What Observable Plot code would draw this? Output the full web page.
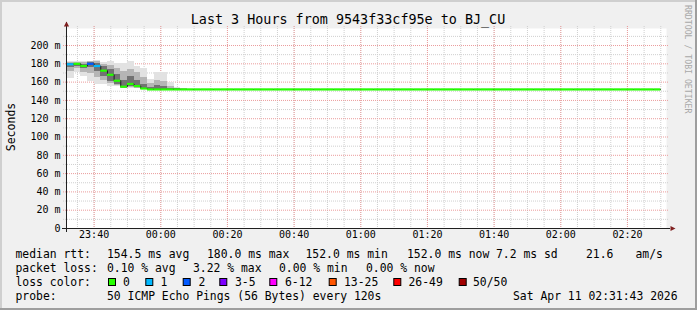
<!DOCTYPE html>
<html><head><meta charset="utf-8">
<script src="https://cdn.jsdelivr.net/npm/d3@7"></script>
<script src="https://cdn.jsdelivr.net/npm/@observablehq/plot@0.6"></script>
<style>
html,body{margin:0;padding:0;background:#f0f0f0;}
svg{display:block;}
</style></head><body><div id="chart"></div>
<script>
// ---- texts ----
const title = "Last 3 Hours from 9543f33cf95e to BJ_CU";
const yLabel = "Seconds";
const watermark = "RRDTOOL / TOBI OETIKER";
// ---- time range ----
const rangeStart = "2026-04-10T23:31:43Z";
const rangeEnd = "2026-04-11T02:31:43Z";
const firstStep = "2026-04-10T23:32:00Z";
const stepSeconds = 120;
const yMax = 218.6;
// ---- median rtt (ms) per 2-minute step ----
const medianMs = [
  179.5, 180, 177.6, 180, 177.6, 172.5, 168, 161.5, 155, 158, 155.7, 153, 152, 152, 152, 152, 152, 152,
  152, 152, 152, 152, 152, 152, 152, 152, 152, 152, 152, 152, 152, 152, 152, 152, 152, 152,
  152, 152, 152, 152, 152, 152, 152, 152, 152, 152, 152, 152, 152, 152, 152, 152, 152, 152,
  152, 152, 152, 152, 152, 152, 152, 152, 152, 152, 152, 152, 152, 152, 152, 152, 152, 152,
  152, 152, 152, 152, 152, 152, 152, 152, 152, 152, 152, 152, 152, 152, 152, 152, 152
];
// ---- lost pings per step (of 50) ----
const lossPings = [
  1, 0, 0, 2, 1, 0, 0, 0, 0, 0, 0, 0, 0, 0, 0, 0, 0, 0,
  0, 0, 0, 0, 0, 0, 0, 0, 0, 0, 0, 0, 0, 0, 0, 0, 0, 0,
  0, 0, 0, 0, 0, 0, 0, 0, 0, 0, 0, 0, 0, 0, 0, 0, 0, 0,
  0, 0, 0, 0, 0, 0, 0, 0, 0, 0, 0, 0, 0, 0, 0, 0, 0, 0,
  0, 0, 0, 0, 0, 0, 0, 0, 0, 0, 0, 0, 0, 0, 0, 0, 0
];
// ---- smoke (ping spread) for the first steps, ms ----
const smokeMin = [164, 170, 166, 161, 157, 157, 155, 155, 153, 153, 153, 152, 151.5, 151.5, 151.5, 151.5, 151.5, 151.5];
const smokeMax = [182, 182, 183, 183, 184, 181, 182, 180, 180, 182, 177, 175, 163, 170, 170, 160, 154, 153];
const smokeLoMid = [172, 175, 171, 169, 165, 162, 159, 156, 153.5, 154, 153.5, 152, 151.8, 151.8, 151.8, 151.8, 151.8, 151.8];
const smokeHiMid = [181, 181, 181.5, 182, 182, 179.5, 178, 175, 172, 174, 170, 165, 158, 162, 161, 155, 153, 152.5];
const smokeLoCore = [176, 177.5, 175, 176, 172, 166, 161, 157.5, 154, 155, 154, 152.5, 152, 152, 152, 152, 152, 152];
const smokeHiCore = [180, 180.5, 179.5, 181, 180, 177, 174, 168, 162, 166, 162, 157, 154, 156, 155, 153, 152.5, 152.3];
// ---- loss colour legend ----
const lossLabels = ["0", "1", "2", "3-5", "6-12", "13-25", "26-49", "50/50"];
const lossLow = [0, 1, 2, 3, 6, 13, 26, 50];
const lossColors = ["#26ff00", "#00b8ff", "#0059ff", "#7e00ff", "#ff00ff", "#ff5500", "#ff0000", "#a10000"];
// ---- ticks ----
const yTicks = [0, 20, 40, 60, 80, 100, 120, 140, 160, 180, 200];
const yMinorTicks = [10, 30, 50, 70, 90, 110, 130, 150, 170, 190, 210];
// ---- legend texts ----
const rowLabels = ["median rtt:", "packet loss:", "loss color:", "probe:"];
const rttStats = ["154.5 ms avg", "180.0 ms max", "152.0 ms min", "152.0 ms now", "7.2 ms sd", "21.6", "am/s"];
const lossStats = ["0.10 % avg", "3.22 % max", "0.00 % min", "0.00 % now"];
const probeText = "50 ICMP Echo Pings (56 Bytes) every 120s";
const stampText = "Sat Apr 11 02:31:43 2026";

// ---- derived ----
const t0 = Date.parse(firstStep);
const stepTime = i => new Date(t0 + i * stepSeconds * 1000);
const xStart = new Date(rangeStart), xEnd = new Date(rangeEnd);
const steps = medianMs.map((v, i) => i);
const smokeSteps = smokeMin.map((v, i) => i);
const medLine = steps.map(i => ({t: stepTime(i), v: medianMs[i]}));
medLine.push({t: stepTime(steps.length), v: medianMs[steps.length - 1]});
const lossColor = n => { let c = lossColors[0]; lossLow.forEach((lo, k) => { if (n >= lo) c = lossColors[k]; }); return c; };
const minorTimes = d3.utcMinute.every(5).range(xStart, xEnd);
const majorTimes = d3.utcMinute.every(20).range(xStart, xEnd);
const fmt = d3.utcFormat("%H:%M");
const arrowUp = {draw(ctx) { ctx.moveTo(0, -3); ctx.lineTo(2.6, 2); ctx.lineTo(-2.6, 2); ctx.closePath(); }};
const arrowRight = {draw(ctx) { ctx.moveTo(3, 0); ctx.lineTo(-2, -2.6); ctx.lineTo(-2, 2.6); ctx.closePath(); }};
const gridGray = "#cfcfcf", gridRed = "#eb9c9c";

const chart = Plot.plot({
  width: 697, height: 310,
  marginLeft: 66, marginRight: 31, marginTop: 28, marginBottom: 82,
  style: {fontFamily: "DejaVu Sans Mono", fontSize: "10px", background: "#f0f0f0", color: "#000", overflow: "visible"},
  x: {type: "utc", domain: [xStart, xEnd], axis: null},
  y: {domain: [0, yMax], axis: null},
  color: {type: "identity"},
  marks: [
    Plot.frame({fill: "white", stroke: "none"}),
    Plot.ruleX(minorTimes, {x: d => d, stroke: gridGray, strokeDasharray: "1,1", insetTop: -2}),
    Plot.ruleY(yMinorTicks, {y: d => d, stroke: gridGray, strokeDasharray: "1,1", insetLeft: -3, insetRight: -3}),
    Plot.ruleX(majorTimes, {x: d => d, stroke: gridRed, strokeDasharray: "1,1", insetTop: -2}),
    Plot.ruleY(yTicks.filter(d => d > 0), {y: d => d, stroke: gridRed, strokeDasharray: "1,1", insetLeft: -3, insetRight: -3}),
    Plot.rect(smokeSteps, {x1: i => stepTime(i), x2: i => stepTime(i + 1), y1: i => smokeMin[i], y2: i => smokeMax[i], fill: "#e2e2e2", shapeRendering: "crispEdges"}),
    Plot.rect(smokeSteps, {x1: i => stepTime(i), x2: i => stepTime(i + 1), y1: i => smokeLoMid[i], y2: i => smokeHiMid[i], fill: "#b5b5b5", shapeRendering: "crispEdges"}),
    Plot.rect(smokeSteps, {x1: i => stepTime(i), x2: i => stepTime(i + 1), y1: i => smokeLoCore[i], y2: i => smokeHiCore[i], fill: "#727272", shapeRendering: "crispEdges"}),
    Plot.line(medLine, {x: "t", y: "v", curve: "step-after", stroke: "#202020", strokeWidth: 1}),
    Plot.ruleY(steps, {y: i => medianMs[i], x1: i => stepTime(i), x2: i => stepTime(i + 1), stroke: i => lossColor(lossPings[i]), strokeWidth: 2.2}),
    Plot.ruleY([0], {y: d => d, stroke: "#202020", insetLeft: -4, insetRight: -4}),
    Plot.ruleX([xStart], {x: d => d, stroke: "#202020", insetTop: -6, insetBottom: -4}),
    Plot.dot([0], {x: () => xStart, y: () => yMax, dy: -4, symbol: arrowUp, fill: "#7f1f1f", stroke: "none"}),
    Plot.dot([0], {x: () => xEnd, y: () => 0, dx: 6, symbol: arrowRight, fill: "#7f1f1f", stroke: "none"}),
    Plot.text(majorTimes, {x: d => d, frameAnchor: "bottom", dy: 9, text: d => fmt(d)}),
    Plot.text(yTicks, {y: d => d, frameAnchor: "left", dx: -6, textAnchor: "end", text: d => d === 0 ? "0" : d + " m"})
  ]
});
document.getElementById("chart").appendChild(chart);

// ---- decorations, title and legend ----
const svg = d3.select(chart);
const mono = "DejaVu Sans Mono";
svg.insert("rect", ":first-child").attr("x", 0).attr("y", 0).attr("width", 697).attr("height", 310).attr("fill", "#f0f0f0");
svg.append("rect").attr("x", 0).attr("y", 0).attr("width", 697).attr("height", 2).attr("fill", "#cfcfcf");
svg.append("rect").attr("x", 0).attr("y", 0).attr("width", 2).attr("height", 310).attr("fill", "#cfcfcf");
svg.append("rect").attr("x", 695).attr("y", 0).attr("width", 2).attr("height", 310).attr("fill", "#9e9e9e");
svg.append("rect").attr("x", 0).attr("y", 308).attr("width", 697).attr("height", 2).attr("fill", "#9e9e9e");

svg.append("text").attr("x", 348).attr("y", 24).attr("text-anchor", "middle")
  .attr("font-family", mono).attr("font-size", "13.4px").attr("fill", "#000").text(title);
svg.append("text").attr("transform", "translate(15,127) rotate(-90)").attr("text-anchor", "middle")
  .attr("font-family", mono).attr("font-size", "11.5px").attr("fill", "#000").text(yLabel);
svg.append("text").attr("transform", "translate(685,5) rotate(90)").attr("text-anchor", "start")
  .attr("font-family", mono).attr("font-size", "8.2px").attr("fill", "#a8a8a8").text(watermark);

const rowY = [257.5, 271.5, 285.5, 299.5];
const leg = svg.append("g").attr("font-family", mono).attr("font-size", "11.4px").attr("fill", "#000").attr("text-anchor", "start");
const put = (x, y, s) => leg.append("text").attr("x", x).attr("y", y).attr("text-anchor", "start").attr("xml:space", "preserve").text(s);
rowLabels.forEach((s, r) => put(15.5, rowY[r], s));
const rttX = [107, 207, 305.5, 407, 496, 586, 635.5];
rttStats.forEach((s, k) => put(rttX[k], rowY[0], s));
const lossX = [107, 193, 279, 366];
lossStats.forEach((s, k) => put(lossX[k], rowY[1], s));
const boxX = [108, 145.3, 182.7, 219.3, 269.3, 328.7, 393.3, 458.7];
const labX = [123, 160.5, 198.5, 235, 285, 344, 408.5, 473];
lossLabels.forEach((s, k) => {
  leg.append("rect").attr("x", boxX[k] + 0.5).attr("y", 278.5).attr("width", 7).attr("height", 7)
    .attr("fill", lossColors[k]).attr("stroke", "#000").attr("stroke-width", 1);
  put(labX[k], rowY[2], s);
});
put(107, rowY[3], probeText);
put(513, rowY[3], stampText);
</script></body></html>
